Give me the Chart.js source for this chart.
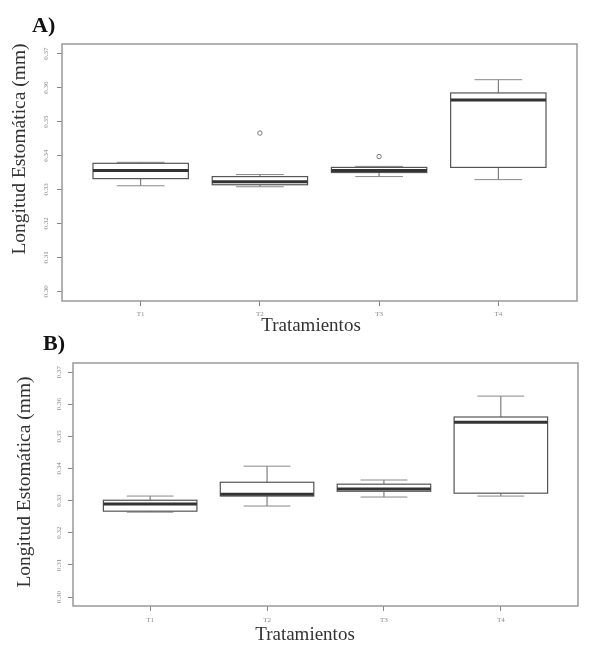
<!DOCTYPE html>
<html>
<head>
<meta charset="utf-8">
<script src="https://cdn.jsdelivr.net/npm/chart.js@4"></script>
<style>
  html, body { margin: 0; padding: 0; background: #ffffff; }
  #wrap { position: relative; width: 609px; height: 650px; background: #fff; overflow: hidden; }
  canvas { position: absolute; left: 0; }
  #cA { top: 0; }
  #cB { top: 320px; }
</style>
</head>
<body>
<div id="wrap">
  <canvas id="cA" width="609" height="340"></canvas>
  <canvas id="cB" width="609" height="330"></canvas>
</div>
<script>
// ---------- data ----------
const categories = ['T1', 'T2', 'T3', 'T4'];
const yTickValues = [0.30, 0.31, 0.32, 0.33, 0.34, 0.35, 0.36, 0.37];
const yTitle = 'Longitud Estomática (mm)';
const xTitle = 'Tratamientos';

// Panel A
const aLowerWhisker = [0.3311, 0.3308, 0.3338, 0.3329];
const aQ1           = [0.3332, 0.3314, 0.3350, 0.3365];
const aMedian       = [0.3356, 0.3323, 0.3356, 0.3563];
const aQ3           = [0.3377, 0.3338, 0.3365, 0.3584];
const aUpperWhisker = [0.3380, 0.3344, 0.3368, 0.3623];
const aOutlierCat   = ['T2', 'T3'];
const aOutlierVal   = [0.3466, 0.3397];

// Panel B
const bLowerWhisker = [0.3264, 0.3283, 0.3311, 0.3314];
const bQ1           = [0.3267, 0.3314, 0.3329, 0.3323];
const bMedian       = [0.3289, 0.3320, 0.3336, 0.3544];
const bQ3           = [0.3301, 0.3357, 0.3351, 0.3560];
const bUpperWhisker = [0.3314, 0.3407, 0.3364, 0.3625];
const bOutlierCat   = [];
const bOutlierVal   = [];

// ---------- drawing ----------
const serif = '"Liberation Serif", "DejaVu Serif", serif';

function makeChart(id, cfg) {
  const ctxEl = document.getElementById(id);
  const box = cfg.box;
  const boxPlugin = {
    id: 'boxes_' + id,
    beforeDatasetsDraw(chart) {
      const { ctx, scales: { x, y } } = chart;
      ctx.save();
      categories.forEach((c, i) => {
        const v = i + 1;
        const xc = x.getPixelForValue(v);
        const hw = x.getPixelForValue(v + 0.4) - xc;
        const sw = hw / 2;
        const yq1 = y.getPixelForValue(box.q1[i]);
        const yq3 = y.getPixelForValue(box.q3[i]);
        const ymed = y.getPixelForValue(box.med[i]);
        const ylo = y.getPixelForValue(box.lo[i]);
        const yhi = y.getPixelForValue(box.hi[i]);
        // whiskers
        ctx.strokeStyle = '#666';
        ctx.lineWidth = 1;
        ctx.beginPath();
        ctx.moveTo(xc, yq3); ctx.lineTo(xc, yhi);
        ctx.moveTo(xc, yq1); ctx.lineTo(xc, ylo);
        ctx.stroke();
        ctx.strokeStyle = '#888';
        ctx.beginPath();
        ctx.moveTo(xc - sw, yhi); ctx.lineTo(xc + sw, yhi);
        ctx.moveTo(xc - sw, ylo); ctx.lineTo(xc + sw, ylo);
        ctx.stroke();
        // box
        ctx.fillStyle = '#fff';
        ctx.fillRect(xc - hw, yq3, 2 * hw, yq1 - yq3);
        ctx.strokeStyle = '#555';
        ctx.lineWidth = 1.2;
        ctx.strokeRect(xc - hw, yq3, 2 * hw, yq1 - yq3);
        // median
        ctx.strokeStyle = '#333';
        ctx.lineWidth = 3;
        ctx.beginPath();
        ctx.moveTo(xc - hw, ymed); ctx.lineTo(xc + hw, ymed);
        ctx.stroke();
      });
      ctx.restore();
    },
    afterDraw(chart) {
      const { ctx, chartArea: ca, scales: { y } } = chart;
      ctx.save();
      // plot frame
      ctx.strokeStyle = '#999';
      ctx.lineWidth = 1.5;
      ctx.strokeRect(ca.left, ca.top, ca.right - ca.left, ca.bottom - ca.top);
      // rotated y tick labels
      ctx.fillStyle = '#888';
      ctx.font = '7px ' + serif;
      ctx.textAlign = 'center';
      ctx.textBaseline = 'middle';
      y.ticks.forEach(t => {
        const py = y.getPixelForValue(t.value);
        ctx.save();
        ctx.translate(cfg.yLabelX, py);
        ctx.rotate(-Math.PI / 2);
        ctx.fillText(t.value.toFixed(2), 0, 0);
        ctx.restore();
      });
      // y title
      ctx.fillStyle = '#333';
      ctx.font = '19.5px ' + serif;
      ctx.save();
      ctx.translate(cfg.yTitleX, cfg.yTitleY);
      ctx.rotate(-Math.PI / 2);
      ctx.fillText(yTitle, 0, 0);
      ctx.restore();
      // x title
      ctx.font = '19px ' + serif;
      ctx.textBaseline = 'alphabetic';
      ctx.fillText(xTitle, cfg.xTitleX, cfg.xTitleY);
      // panel label
      ctx.textAlign = 'left';
      ctx.fillStyle = '#111';
      ctx.font = 'bold 22px ' + serif;
      ctx.fillText(cfg.panel, cfg.panelX, cfg.panelY);
      ctx.restore();
    }
  };

  return new Chart(ctxEl, {
    type: 'scatter',
    data: {
      datasets: [{
        data: cfg.outCat.map((c, k) => ({ x: categories.indexOf(c) + 1, y: cfg.outVal[k] })),
        pointStyle: 'circle',
        pointRadius: 2.2,
        borderColor: '#777',
        backgroundColor: 'rgba(0,0,0,0)',
        borderWidth: 1
      }]
    },
    options: {
      responsive: false,
      animation: false,
      devicePixelRatio: 1,
      layout: { padding: cfg.padding },
      plugins: { legend: { display: false }, tooltip: { enabled: false } },
      scales: {
        x: {
          type: 'linear',
          min: 0.34, max: 4.66,
          afterBuildTicks: s => { s.ticks = categories.map((c, i) => ({ value: i + 1 })); },
          afterFit: s => { s.height = cfg.xAxisH; },
          grid: { display: true, drawOnChartArea: false, drawTicks: true, tickLength: 5, color: '#888', lineWidth: 1 },
          border: { display: false },
          ticks: {
            callback: v => categories[v - 1],
            font: { size: 7, family: serif },
            color: '#888',
            padding: cfg.xTickPad,
            maxRotation: 0, autoSkip: false
          }
        },
        y: {
          type: 'linear',
          min: 0.2972, max: 0.3728,
          afterBuildTicks: s => { s.ticks = yTickValues.map(v => ({ value: v })); },
          afterFit: s => { s.width = 6; },
          grid: { display: true, drawOnChartArea: false, drawTicks: true, tickLength: 5, color: '#888', lineWidth: 1 },
          border: { display: false },
          ticks: { display: false }
        }
      }
    },
    plugins: [boxPlugin]
  });
}

// Panel A (canvas top 0, height 340): chart area left 62, right 577, top 44, bottom 301
makeChart('cA', {
  box: { lo: aLowerWhisker, q1: aQ1, med: aMedian, q3: aQ3, hi: aUpperWhisker },
  outCat: aOutlierCat, outVal: aOutlierVal,
  padding: { left: 56, right: 32, top: 44, bottom: 340 - 301 - 20 },
  xAxisH: 20, xTickPad: 4,
  yLabelX: 46, yTitleX: 20, yTitleY: 149,
  xTitleX: 311, xTitleY: 331,
  panel: 'A)', panelX: 32, panelY: 32
});

// Panel B (canvas top 320, height 330): chart area left 73, right 578, top 363, bottom 606
makeChart('cB', {
  box: { lo: bLowerWhisker, q1: bQ1, med: bMedian, q3: bQ3, hi: bUpperWhisker },
  outCat: bOutlierCat, outVal: bOutlierVal,
  padding: { left: 67, right: 31, top: 43, bottom: 330 - 286 - 20 },
  xAxisH: 20, xTickPad: 5,
  yLabelX: 59, yTitleX: 25, yTitleY: 162,
  xTitleX: 305, xTitleY: 320,
  panel: 'B)', panelX: 43, panelY: 30
});
</script>
</body>
</html>
